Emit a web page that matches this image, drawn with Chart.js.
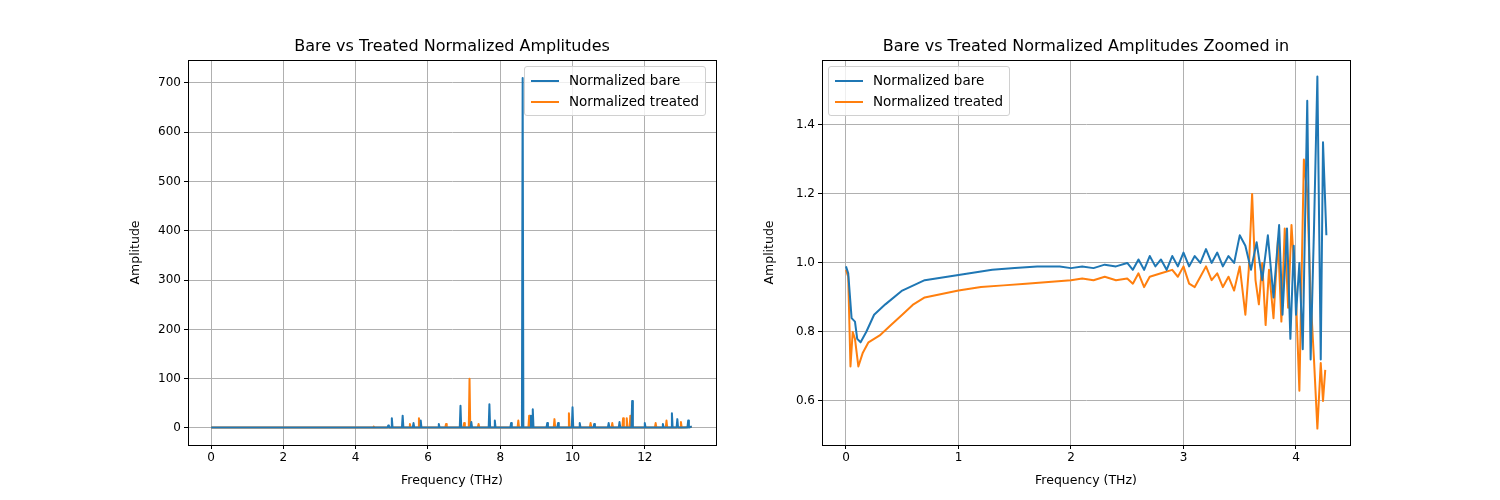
<!DOCTYPE html>
<html><head><meta charset="utf-8">
<script src="https://cdn.jsdelivr.net/npm/chart.js@4"></script>
<style>
body{margin:0;width:1500px;height:500px;background:#fff;position:relative;font-family:"DejaVu Sans";}
.c{position:absolute;top:0}
.t{position:absolute;top:36px;width:528px;text-align:center;font-size:16px;color:#000}
.leg{position:absolute;background:rgba(255,255,255,0.8);border:1px solid #d0d0d0;border-radius:3px;font-size:13.5px;padding:3px 6px;line-height:21px}
.leg span{display:inline-block;width:28px;height:2px;vertical-align:middle;margin-right:10px}
</style></head><body>
<div class="c" style="left:100px;width:640px;height:500px"><canvas id="c1"></canvas></div>
<div class="c" style="left:734px;width:640px;height:500px"><canvas id="c2"></canvas></div>
<div class="t" style="left:188px">Bare vs Treated Normalized Amplitudes</div>
<div class="t" style="left:822px">Bare vs Treated Normalized Amplitudes Zoomed in</div>
<div class="leg" style="left:524px;top:66px"><div><span style="background:#1f77b4"></span>Normalized bare</div><div><span style="background:#ff7f0e"></span>Normalized treated</div></div>
<div class="leg" style="left:828px;top:66px"><div><span style="background:#1f77b4"></span>Normalized bare</div><div><span style="background:#ff7f0e"></span>Normalized treated</div></div>
<script>
// Full-range data
const bareX = [0,4.5,4.88,4.9,4.92,4.98,5.0,5.02,5.28,5.3,5.32,5.58,5.6,5.62,5.78,5.8,5.82,6.28,6.3,6.32,6.88,6.9,6.92,7.18,7.2,7.22,7.68,7.7,7.72,7.83,7.85,7.87,8.28,8.3,8.32,8.6,8.62,8.64,8.83,8.85,8.88,8.9,8.92,9.28,9.3,9.32,9.58,9.6,9.62,9.98,10.0,10.02,10.18,10.2,10.22,10.58,10.6,10.62,10.98,11.0,11.02,11.28,11.3,11.32,11.63,11.65,11.67,11.98,12.0,12.02,12.48,12.5,12.52,12.73,12.75,12.77,12.88,12.9,12.92,13.18,13.2,13.22,13.3];
const bareY = [1,1,1,5,1,1,20,1,1,25,1,1,10,1,1,15,1,1,8,1,1,45,1,1,12,1,1,48,1,1,15,1,1,10,1,1,710,1,1,25,1,38,1,1,10,1,1,10,1,1,42,1,1,10,1,1,8,1,1,10,1,1,12,1,1,55,1,1,10,1,1,8,1,1,30,1,1,18,1,1,15,1,3];
const treatX = [0,4.48,4.5,4.52,5.48,5.5,5.52,5.73,5.75,5.77,6.48,6.5,6.52,6.98,7.0,7.02,7.13,7.15,7.17,7.38,7.4,7.42,8.48,8.5,8.52,8.78,8.8,8.82,9.48,9.5,9.52,9.88,9.9,9.92,10.48,10.5,10.52,11.08,11.1,11.12,11.38,11.4,11.42,11.48,11.5,11.52,11.58,11.6,11.62,12.28,12.3,12.32,12.58,12.6,12.62,12.98,13.0,13.02,13.3];
const treatY = [1,1,3,1,1,8,1,1,20,1,1,8,1,1,10,1,1,100,1,1,8,1,1,15,1,1,25,1,1,18,1,1,30,1,1,10,1,1,10,1,1,20,1,1,20,1,1,25,1,1,10,1,1,15,1,1,12,1,2];
// Zoomed data
const zBareX = [0,0.02,0.05,0.08,0.1,0.13,0.18,0.25,0.35,0.5,0.7,0.9,1.1,1.3,1.5,1.7,1.9,2.0,2.1,2.2,2.3,2.4,2.5,2.55,2.6,2.65,2.7,2.75,2.8,2.85,2.9,2.95,3.0,3.05,3.1,3.15,3.2,3.25,3.3,3.35,3.4,3.45,3.5,3.55,3.6,3.65,3.7,3.75,3.8,3.85,3.88,3.92,3.95,3.98,4.0,4.03,4.06,4.1,4.13,4.16,4.19,4.22,4.24,4.27];
const zBareY = [0.99,0.97,0.84,0.83,0.78,0.77,0.8,0.85,0.88,0.92,0.95,0.96,0.97,0.98,0.985,0.99,0.99,0.985,0.99,0.985,0.995,0.99,1.0,0.98,1.01,0.98,1.02,0.99,1.01,0.98,1.02,0.99,1.03,0.99,1.02,1.0,1.04,1.0,1.03,0.99,1.02,1.0,1.08,1.05,0.98,1.06,0.95,1.08,0.9,1.11,0.85,1.1,0.78,1.05,0.85,1.0,0.75,1.47,0.72,1.1,1.54,0.72,1.35,1.08];
const zTreatX = [0,0.02,0.04,0.06,0.08,0.11,0.15,0.2,0.25,0.3,0.4,0.5,0.6,0.7,0.85,1.0,1.2,1.4,1.6,1.8,2.0,2.1,2.2,2.3,2.4,2.5,2.55,2.6,2.65,2.7,2.8,2.9,2.95,3.0,3.05,3.1,3.15,3.2,3.25,3.3,3.35,3.4,3.45,3.5,3.55,3.58,3.61,3.64,3.67,3.7,3.73,3.76,3.8,3.84,3.87,3.9,3.93,3.96,4.0,4.03,4.07,4.1,4.13,4.16,4.19,4.22,4.24,4.26];
const zTreatY = [0.98,0.96,0.70,0.8,0.78,0.70,0.74,0.77,0.78,0.79,0.82,0.85,0.88,0.9,0.91,0.92,0.93,0.935,0.94,0.945,0.95,0.955,0.95,0.96,0.95,0.955,0.94,0.97,0.93,0.96,0.97,0.98,0.96,0.99,0.94,0.93,0.96,0.99,0.95,0.97,0.93,0.96,0.92,0.99,0.85,0.98,1.2,0.95,0.88,1.0,0.82,0.98,0.84,1.07,0.83,1.1,0.87,1.11,0.9,0.63,1.3,1.2,0.9,0.72,0.52,0.71,0.6,0.69];
const leftXTicks=[0,2,4,6,8,10,12], leftYTicks=[0,100,200,300,400,500,600,700];
const rightXTicks=[0,1,2,3,4], rightYTicks=[0.6,0.8,1.0,1.2,1.4];

Chart.defaults.font.family="DejaVu Sans";
Chart.defaults.color="#000";
const frame={id:'frame',afterDraw(c){const a=c.chartArea,x=c.ctx;x.save();x.strokeStyle='#000';x.lineWidth=1;x.strokeRect(a.left+0.5,a.top+0.5,a.right-a.left,a.bottom-a.top);x.restore();}};
const pts=(xs,ys)=>xs.map((v,i)=>({x:v,y:ys[i]}));
function make(id,bx,by,tx,ty,xr,yr,xt,yt,fmtY){
 const ds=(d,c)=>({data:d,borderColor:c,borderWidth:2,pointRadius:0,tension:0,borderJoinStyle:'round',borderCapStyle:'butt'});
 new Chart(document.getElementById(id),{type:'line',
  data:{datasets:[ds(pts(bx,by),'#1f77b4'),ds(pts(tx,ty),'#ff7f0e')]},
  options:{animation:false,responsive:true,maintainAspectRatio:false,
   layout:{padding:{right:24,left:28,top:60,bottom:12}},
   plugins:{legend:{display:false},tooltip:{enabled:false},title:{display:false}},
   scales:{
    x:{type:'linear',min:xr[0],max:xr[1],afterBuildTicks:s=>{s.ticks=xt.map(v=>({value:v}))},
       afterFit:s=>{s.height=43},
       ticks:{font:{size:12},color:'#000',maxRotation:0,padding:2,callback:v=>String(v)},
       grid:{color:'#b0b0b0',tickColor:'#000',tickLength:4},border:{color:'#000'},
       title:{display:true,text:'Frequency (THz)',font:{size:12.5},color:'#000',padding:{top:2,bottom:0}}},
    y:{type:'linear',min:yr[0],max:yr[1],afterBuildTicks:s=>{s.ticks=yt.map(v=>({value:v}))},
       afterFit:s=>{s.width=60},
       ticks:{font:{size:12},color:'#000',padding:3,callback:fmtY},
       grid:{color:'#b0b0b0',tickColor:'#000',tickLength:4},border:{color:'#000'},
       title:{display:true,text:'Amplitude',font:{size:12.5},color:'#000',padding:0}}}},
  plugins:[frame]});
}
make('c1',bareX,bareY,treatX,treatY,[-0.64,13.97],[-34.5,746.6],leftXTicks,leftYTicks,v=>String(v));
make('c2',zBareX,zBareY,zTreatX,zTreatY,[-0.213,4.48],[0.4725,1.588],rightXTicks,rightYTicks,v=>v.toFixed(1));
</script></body></html>
